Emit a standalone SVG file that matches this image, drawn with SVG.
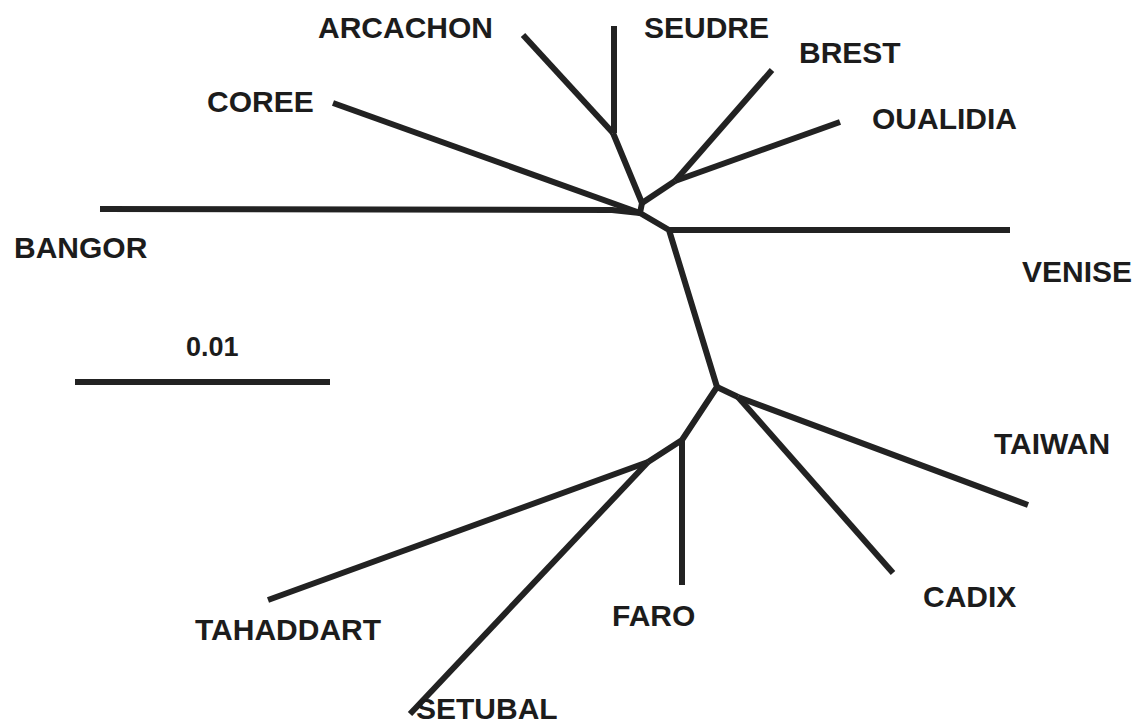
<svg xmlns="http://www.w3.org/2000/svg" width="1137" height="724" viewBox="0 0 1137 724">
  <style>
    .br { fill: none; stroke: #222222; stroke-width: 6; stroke-linecap: butt; stroke-linejoin: round; }
    .lbl { font-family: "Liberation Sans", Arial, sans-serif; font-weight: bold; font-size: 30px; fill: #1c1c1c; }
  </style>
  <rect width="1137" height="724" fill="#ffffff"/>

  <!-- tree branches -->
  <g id="connectors">
    <!-- internal branches -->
    <polyline class="br" points="613,133 642,203 640,213 669,230 717,387 682,440 648,462"/>
    <polyline class="br" points="642,203 675,181"/>
    <polyline class="br" points="717,387 738,397"/>
    <!-- terminal branches -->
    <polyline class="br" points="523,35 613,133"/>
    <polyline class="br" points="614,26 614,133"/>
    <polyline class="br" points="675,181 772,70"/>
    <polyline class="br" points="675,181 840,122"/>
    <polyline class="br" points="333,103 640,213"/>
    <polyline class="br" points="100,209 612,210 640,213"/>
    <polyline class="br" points="669,230 1010,230"/>
    <polyline class="br" points="738,397 1028,505"/>
    <polyline class="br" points="738,397 893,573"/>
    <polyline class="br" points="682,440 682,585"/>
    <polyline class="br" points="648,462 268,600"/>
    <polyline class="br" points="648,462 410,714"/>
  </g>

  <!-- leaf labels -->
  <g id="arcachon"><text class="lbl" x="318" y="38">ARCACHON</text></g>
  <g id="seudre"><text class="lbl" x="644" y="38">SEUDRE</text></g>
  <g id="brest"><text class="lbl" x="799" y="63">BREST</text></g>
  <g id="oualidia"><text class="lbl" x="872" y="129">OUALIDIA</text></g>
  <g id="coree"><text class="lbl" x="207" y="112">COREE</text></g>
  <g id="bangor"><text class="lbl" x="14" y="258">BANGOR</text></g>
  <g id="venise"><text class="lbl" x="1022" y="282">VENISE</text></g>
  <g id="taiwan"><text class="lbl" x="994" y="454">TAIWAN</text></g>
  <g id="cadix"><text class="lbl" x="923" y="607">CADIX</text></g>
  <g id="faro"><text class="lbl" x="612" y="626">FARO</text></g>
  <g id="tahaddart"><text class="lbl" x="195" y="640">TAHADDART</text></g>
  <g id="setubal"><text class="lbl" x="416" y="719">SETUBAL</text></g>

  <!-- scale bar -->
  <g id="scale">
    <text class="lbl" x="186" y="356" style="font-size:27px">0.01</text>
    <line class="br" x1="75" y1="382" x2="330" y2="382"/>
  </g>
</svg>
